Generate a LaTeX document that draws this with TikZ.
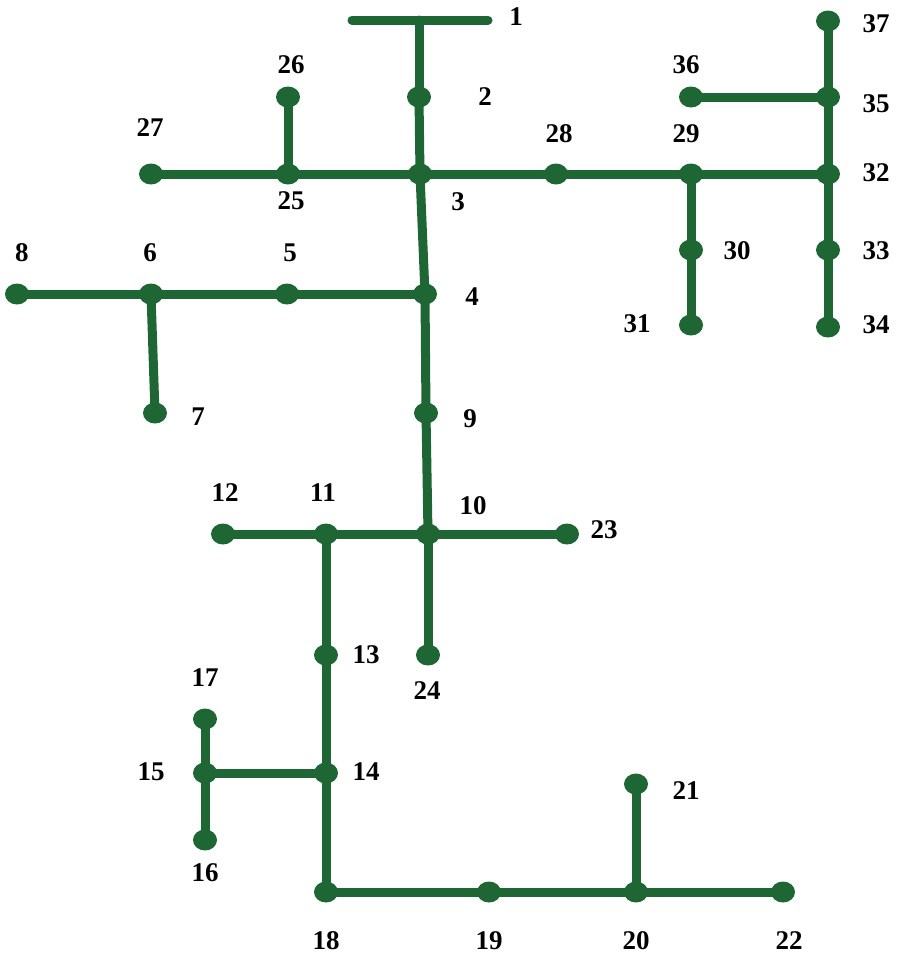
\documentclass[tikz,border=0pt]{standalone}
\usepackage{fontspec}
\setmainfont{Liberation Serif}
\usetikzlibrary{shapes.geometric}
\definecolor{grid}{HTML}{1E6634}
\begin{document}
\begin{tikzpicture}[x=1pt,y=-1pt,
  bus/.style={ellipse,fill=grid,draw=none,minimum width=24pt,minimum height=21pt,inner sep=0pt},
  lbl/.style={font=\bfseries\fontsize{27}{27}\selectfont,inner sep=0pt,text=black},
  line/.style={draw=grid,line width=9pt,line cap=round}]
\useasboundingbox (0,0) rectangle (897,954);
% bus bar of node 1
\coordinate (b1l) at (352,20);
\coordinate (b1r) at (488,20);
\coordinate (n1) at (419,20);
\draw[line] (b1l) -- (b1r);
% buses
\foreach \n/\x/\y in {2/419/97,3/420/174,4/425/294,5/287/294,6/151/294,7/155/413,8/17/294,
  9/426/413,10/428/534,11/326/534,12/223/534,13/326/655,14/326/773,15/205/773,16/205/840,
  17/205/719,18/326/892,19/489/892,20/636/892,21/636/784,22/783/892,23/567/534,24/428/655,
  25/288/174,26/288/97,27/151/174,28/556/174,29/691/174,30/691/250,31/691/325,32/828/174,
  33/828/250,34/828/327,35/828/97,36/691/97,37/828/21}
  \coordinate (c\n) at (\x,\y);
% lines
\foreach \a/\b in {n1/c2,c2/c3,c3/c4,c4/c9,c9/c10,c3/c25,c25/c27,c25/c26,c3/c28,c28/c29,
  c29/c32,c29/c30,c30/c31,c32/c33,c33/c34,c32/c35,c35/c36,c35/c37,c4/c5,c5/c6,c6/c8,c6/c7,
  c10/c11,c11/c12,c10/c23,c10/c24,c11/c13,c13/c14,c14/c15,c15/c17,c15/c16,c14/c18,c18/c19,
  c19/c20,c20/c22,c20/c21}
  \draw[line] (\a) -- (\b);
\foreach \n in {2,...,37}
  \node[bus] (d\n) at (c\n) {};
% labels
\foreach \n/\x/\y in {1/516/17,2/485/97,3/458/202,4/472/297,5/290/253,6/150/253,7/198/417,
  8/22/253,9/470/419,10/473/506,11/323/493,12/225/493,13/366/655,14/366/772,15/151/772,
  16/205/873,17/205/678,18/326/941,19/489/941,20/636/941,21/686/791,22/789/941,23/604/530,
  24/427/691,25/291/201,26/291/65,27/150/128,28/559/134,29/686/134,30/737/251,31/637/324,
  32/876/173,33/876/251,34/876/325,35/876/104,36/686/65,37/876/24}
  \node[lbl] (l\n) at (\x,\y) {\n};
\end{tikzpicture}
\end{document}
